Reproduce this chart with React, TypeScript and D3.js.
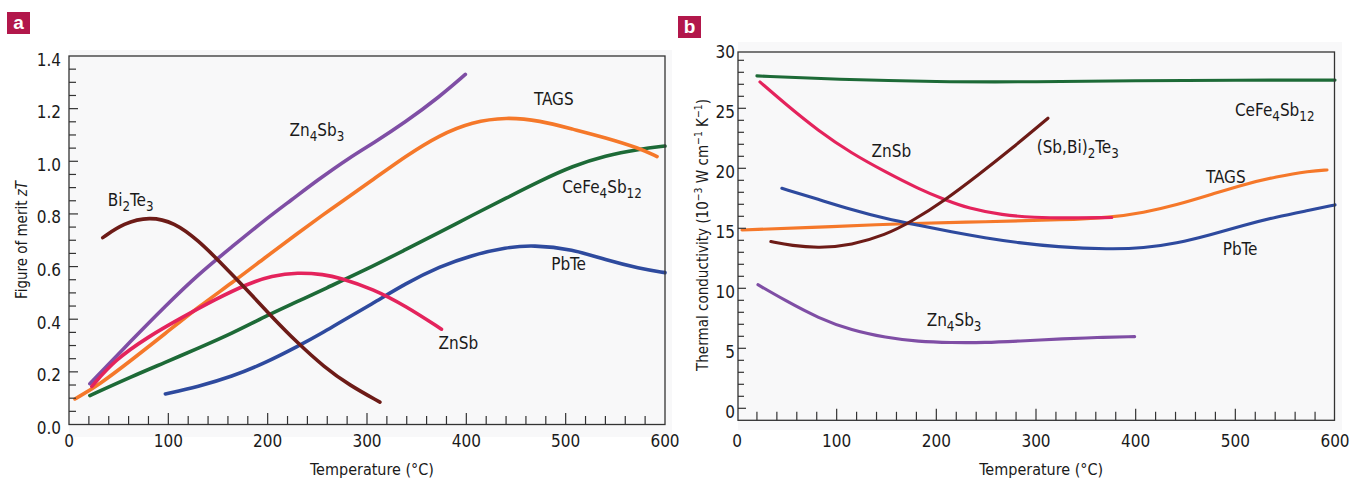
import React from "react";
import * as d3 from "d3";

const FONT = "'Liberation Sans Narrow', 'Arial Narrow', 'DejaVu Sans Condensed', 'Liberation Sans', sans-serif";

type Pt = [number, number];

// ---- panel a : figure of merit zT vs temperature (°C)
const ztBi2Te3: Pt[] = [[34, 0.71], [55, 0.765], [81, 0.79], [106, 0.768], [130, 0.70], [154, 0.61], [177, 0.52], [204, 0.41], [230, 0.31], [257, 0.218], [282, 0.15], [313, 0.085]];
const ztZn4Sb3: Pt[] = [[21, 0.155], [63, 0.32], [97, 0.45], [130, 0.57], [164, 0.675], [197, 0.777], [224, 0.853], [250, 0.928], [282, 1.013], [306, 1.068], [339, 1.15], [373, 1.245], [399, 1.33]];
const ztTAGS: Pt[] = [[6, 0.097], [30, 0.15], [63, 0.245], [97, 0.346], [130, 0.446], [164, 0.538], [197, 0.633], [230, 0.726], [257, 0.80], [272, 0.84], [306, 0.93], [339, 1.02], [373, 1.1], [406, 1.15], [440, 1.168], [474, 1.155], [507, 1.122], [540, 1.09], [574, 1.05], [592, 1.018]];
const ztZnSb: Pt[] = [[23, 0.145], [46, 0.245], [80, 0.334], [113, 0.405], [147, 0.475], [180, 0.535], [204, 0.565], [230, 0.578], [257, 0.57], [272, 0.558], [306, 0.515], [339, 0.45], [375, 0.362]];
const ztCeFe4Sb12: Pt[] = [[21, 0.11], [63, 0.182], [97, 0.236], [130, 0.29], [164, 0.346], [197, 0.41], [230, 0.467], [257, 0.515], [300, 0.59], [339, 0.665], [373, 0.73], [406, 0.795], [440, 0.86], [474, 0.925], [507, 0.982], [540, 1.022], [574, 1.046], [600, 1.058]];
const ztPbTe: Pt[] = [[97, 0.116], [130, 0.144], [164, 0.182], [197, 0.233], [230, 0.296], [257, 0.352], [272, 0.387], [306, 0.46], [339, 0.536], [373, 0.60], [406, 0.644], [440, 0.673], [467, 0.682], [507, 0.666], [540, 0.625], [574, 0.593], [600, 0.577]];

// ---- panel b : thermal conductivity (1e-3 W/cm/K) vs temperature (°C)
const kCeFe4Sb12: Pt[] = [[20, 27.7], [100, 27.4], [200, 27.2], [300, 27.2], [400, 27.3], [500, 27.35], [600, 27.35]];
const kZnSb: Pt[] = [[23, 27.2], [48, 25.4], [82, 23.1], [115, 21.25], [149, 19.7], [182, 18.3], [209, 17.36], [232, 16.67], [266, 16.1], [299, 15.9], [329, 15.85], [376, 15.9]];
const kTAGS: Pt[] = [[5, 14.86], [100, 15.15], [165, 15.4], [250, 15.55], [329, 15.7], [374, 15.9], [408, 16.3], [441, 16.95], [475, 17.8], [508, 18.65], [541, 19.3], [575, 19.78], [592, 19.86]];
const kPbTe: Pt[] = [[45, 18.33], [82, 17.4], [115, 16.55], [149, 15.8], [182, 15.25], [215, 14.7], [249, 14.2], [282, 13.8], [320, 13.45], [374, 13.25], [408, 13.35], [441, 13.75], [475, 14.45], [508, 15.25], [541, 15.95], [574, 16.5], [600, 16.95]];
const kSbBiTe: Pt[] = [[34, 13.9], [55, 13.55], [82, 13.35], [115, 13.6], [149, 14.45], [175, 15.55], [209, 17.36], [242, 19.44], [276, 21.67], [312, 24.17]];
const kZn4Sb3: Pt[] = [[21, 10.3], [48, 9.0], [82, 7.5], [115, 6.5], [149, 5.9], [182, 5.55], [215, 5.47], [249, 5.47], [282, 5.6], [329, 5.8], [360, 5.9], [399, 5.97]];

// tick labels
const tempTicks = [0, 100, 200, 300, 400, 500, 600];
const ztTicks = [0, 0.2, 0.4, 0.6, 0.8, 1.0, 1.2, 1.4];
const kTicks = [0, 5, 10, 15, 20, 25, 30];

const C = {
  brown: "#6d1b17",
  purple: "#7f4ea5",
  orange: "#f5782a",
  pink: "#e4235c",
  green: "#1d6a37",
  blue: "#2e4a9e",
};

const seriesA = [
  { data: ztCeFe4Sb12, color: C.green },
  { data: ztPbTe, color: C.blue },
  { data: ztTAGS, color: C.orange },
  { data: ztZn4Sb3, color: C.purple },
  { data: ztZnSb, color: C.pink },
  { data: ztBi2Te3, color: C.brown },
];
const labelsA: { text: string; at: Pt }[] = [
  { text: "Bi2Te3", at: [39, 0.83] },
  { text: "Zn4Sb3", at: [222, 1.096] },
  { text: "TAGS", at: [468, 1.214] },
  { text: "CeFe4Sb12", at: [496.5, 0.881] },
  { text: "PbTe", at: [485.4, 0.588] },
  { text: "ZnSb", at: [372, 0.286] },
];

const seriesB = [
  { data: kCeFe4Sb12, color: C.green },
  { data: kTAGS, color: C.orange },
  { data: kZnSb, color: C.pink },
  { data: kPbTe, color: C.blue },
  { data: kSbBiTe, color: C.brown },
  { data: kZn4Sb3, color: C.purple },
];
const labelsB: { text: string; at: Pt }[] = [
  { text: "ZnSb", at: [135, 20.97] },
  { text: "(Sb,Bi)2Te3", at: [300.7, 21.3] },
  { text: "CeFe4Sb12", at: [499.6, 24.36] },
  { text: "TAGS", at: [470.5, 18.8] },
  { text: "PbTe", at: [487.3, 12.78] },
  { text: "Zn4Sb3", at: [190.3, 6.88] },
];

function Chem({ text, x, y, size }: { text: string; x: number; y: number; size: number }) {
  const parts = text.split(/(\d+)/).filter((s) => s !== "");
  let down = false;
  const sh = size * 0.3;
  return (
    <text x={x} y={y} fontSize={size} fill="#1a1a1a">
      {parts.map((p, i) => {
        const sub = /^\d+$/.test(p);
        let dy = 0;
        if (sub && !down) { dy = sh; down = true; }
        else if (!sub && down) { dy = -sh; down = false; }
        return (
          <tspan key={i} dy={dy} fontSize={sub ? size * 0.78 : size}>{p}</tspan>
        );
      })}
    </text>
  );
}

function Panel(props: any) {
  const { x, y, frame, bg, series, labels, yTicks, yFmt, yMinor, yMajorLen, yMinorLen, yLabelGap, lineW, tag } = props;
  const line = d3.line<Pt>().x((d) => x(d[0])).y((d) => y(d[1])).curve(d3.curveBasis);
  const xMinor = d3.range(20, 600, 20).filter((v) => v % 100 !== 0);
  const xMajor = tempTicks.filter((v) => v > 0 && v < 600);
  return (
    <g>
      <rect x={bg[0]} y={bg[1]} width={bg[2] - bg[0]} height={bg[3] - bg[1]} fill="#f8f8f9" />
      {/* tag box */}
      <rect x={tag.x} y={tag.y} width={23} height={22} fill="#b2174b" />
      <text x={tag.x + 11.5} y={tag.y + 17} textAnchor="middle" fill="#fff" fontSize={19} fontWeight="bold" fontFamily="'Liberation Sans', sans-serif">{tag.t}</text>
      {/* lines */}
      {series.map((s: any, i: number) => (
        <path key={i} d={line(s.data) || ""} fill="none" stroke={s.color} strokeWidth={lineW} strokeLinecap="round" />
      ))}
      {/* frame */}
      <rect x={frame.l} y={frame.t} width={frame.r - frame.l} height={frame.b - frame.t} fill="none" stroke="#333" strokeWidth={1.3} />
      {/* x ticks */}
      {xMinor.map((v) => (
        <line key={"xm" + v} x1={x(v)} x2={x(v)} y1={frame.b} y2={frame.b - 8.5} stroke="#333" strokeWidth={1.2} />
      ))}
      {xMajor.map((v) => (
        <line key={"xM" + v} x1={x(v)} x2={x(v)} y1={frame.b} y2={frame.b - 11.5} stroke="#333" strokeWidth={1.2} />
      ))}
      {tempTicks.map((v) => (
        <text key={"xl" + v} x={x(v)} y={446.5} textAnchor="middle" fontSize={17} fill="#1a1a1a">{v}</text>
      ))}
      {/* y ticks */}
      {yMinor.map((v: number) => (
        <line key={"ym" + v} x1={frame.l} x2={frame.l + yMinorLen} y1={y(v)} y2={y(v)} stroke="#333" strokeWidth={1.2} />
      ))}
      {yTicks.filter((v: number) => y(v) > frame.t + 1 && y(v) < frame.b - 1).map((v: number) => (
        <line key={"yM" + v} x1={frame.l} x2={frame.l + yMajorLen} y1={y(v)} y2={y(v)} stroke="#333" strokeWidth={1.2} />
      ))}
      {yTicks.map((v: number) => (
        <text key={"yl" + v} x={frame.l - yLabelGap} y={y(v) + 9.5} textAnchor="end" fontSize={17} fill="#1a1a1a">{yFmt(v)}</text>
      ))}
      {/* labels */}
      {labels.map((l: any, i: number) => (
        <Chem key={i} text={l.text} x={x(l.at[0])} y={y(l.at[1])} size={17} />
      ))}
      <text x={(frame.l + frame.r) / 2 + 5} y={475} textAnchor="middle" fontSize={16} fill="#1a1a1a">Temperature (°C)</text>
    </g>
  );
}

export default function App() {
  const xA = d3.scaleLinear().domain([0, 600]).range([69, 665]);
  const yA = d3.scaleLinear().domain([0, 1.4]).range([424.5, 56]);
  const xB = d3.scaleLinear().domain([0, 600]).range([737, 1335]);
  const yB = d3.scaleLinear().domain([0, 30]).range([408.3, 48.3]);

  return (
    <svg width={1350} height={478} style={{ position: "absolute", left: 0, top: 0, background: "#fff" }} fontFamily={FONT}>
      <Panel
        x={xA} y={yA}
        frame={{ l: 69, r: 665, t: 56, b: 424.5 }}
        bg={[69, 50, 672, 437]}
        series={seriesA} labels={labelsA}
        yTicks={ztTicks} yFmt={(v: number) => v.toFixed(1)}
        yMinor={d3.range(0.05, 1.4, 0.05).filter((v) => Math.abs(v * 5 - Math.round(v * 5)) > 0.01)}
        yMajorLen={9} yMinorLen={7} yLabelGap={8}
        lineW={3.6}
        tag={{ x: 7, y: 12, t: "a" }}
      />
      <text transform="translate(27,240) rotate(-90)" textAnchor="middle" fontSize={15} fill="#1a1a1a" textLength={118} lengthAdjust="spacingAndGlyphs">
        Figure of merit <tspan fontStyle="italic">zT</tspan>
      </text>
      <Panel
        x={xB} y={yB}
        frame={{ l: 738, r: 1334.5, t: 52, b: 420.3 }}
        bg={[738, 42, 1342, 430]}
        series={seriesB} labels={labelsB}
        yTicks={kTicks} yFmt={(v: number) => String(v)}
        yMinor={d3.range(1, 30, 1).filter((v) => v % 5 !== 0)}
        yMajorLen={8} yMinorLen={6} yLabelGap={3}
        lineW={3.1}
        tag={{ x: 678, y: 16, t: "b" }}
      />
      <text transform="translate(707.5,235) rotate(-90)" textAnchor="middle" fontSize={16} fill="#1a1a1a" textLength={272} lengthAdjust="spacingAndGlyphs">
        Thermal conductivity (10<tspan dy={-6} fontSize={11}>−3</tspan><tspan dy={6}> W cm</tspan><tspan dy={-6} fontSize={11}>−1</tspan><tspan dy={6}> K</tspan><tspan dy={-6} fontSize={11}>−1</tspan><tspan dy={6}>)</tspan>
      </text>
    </svg>
  );
}
